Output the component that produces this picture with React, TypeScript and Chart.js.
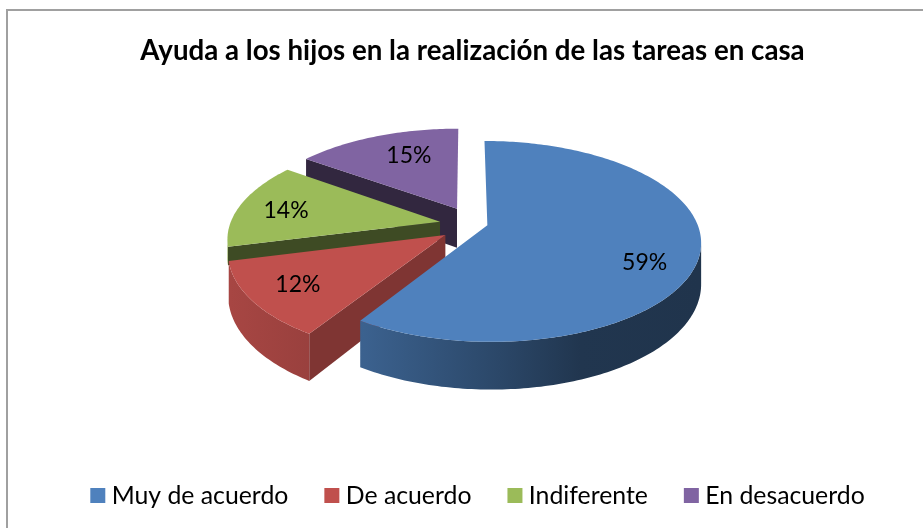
import React, { useEffect, useRef } from "react";
import { Chart, registerables } from "chart.js";

Chart.register(...registerables);

const categories = ["Muy de acuerdo", "De acuerdo", "Indiferente", "En desacuerdo"];
const values = [59, 12, 14, 15];
const colors = ["#4f81bd", "#c0504d", "#9bbb59", "#8064a2"];
const explode = [21, 31, 27, 35];
const explodeTurn = [-0.15, -0.21, 0, 0.19];
const sideShade = [0.6, 0.66, 0.4, 0.39];
const sideDepth = [40, 40, 18, 40];
const labelRadius = [0.785, 0.78, 0.76, 0.68];
const labelTurn = [0.19, 0, -0.04, 0.075];
const wallStops = [[230, 0.87], [365, 0.75], [500, 0.55], [580, 0.42], [700, 0.4]];

const PIE_X = 466.5;
const PIE_Y = 224;
const TILT = 0.464;
const PERSPECTIVE = 0.16;

function rgb(hex: string, s: number) {
  const n = parseInt(hex.slice(1), 16);
  return `rgb(${Math.round(((n >> 16) & 255) * s)},${Math.round(((n >> 8) & 255) * s)},${Math.round((n & 255) * s)})`;
}

const pie3d = {
  id: "pie3d",
  afterLayout(chart: any) {
    chart.legend.left += 8;
    chart.legend.right += 8;
  },
  beforeDatasetsDraw(chart: any) {
    const { ctx } = chart;
    const arcs = chart.getDatasetMeta(0).data;
    const project = (arc: any, i: number, a: number, r: number, down: number) => {
      const R = arc.outerRadius;
      const off = arc.options.offset / R;
      const mid = (arc.startAngle + arc.endAngle) / 2 + explodeTurn[i];
      const u = r * Math.cos(a) + off * Math.cos(mid);
      const v = r * Math.sin(a) + off * Math.sin(mid);
      const w = 1 - PERSPECTIVE * v;
      return [PIE_X + (R * u) / w, PIE_Y + (R * TILT * v) / w + down / w];
    };
    const poly = (pts: number[][], fill: any) => {
      ctx.beginPath();
      pts.forEach((p, n) => (n ? ctx.lineTo(p[0], p[1]) : ctx.moveTo(p[0], p[1])));
      ctx.closePath();
      ctx.fillStyle = fill;
      ctx.fill();
    };
    ctx.save();
    for (let i = arcs.length - 1; i >= 0; i--) {
      const arc = arcs[i];
      const base = colors[i];
      const depth = sideDepth[i];
      const steps = Math.ceil(((arc.endAngle - arc.startAngle) * 180) / Math.PI);
      const at = (k: number) => arc.startAngle + ((arc.endAngle - arc.startAngle) * k) / steps;
      const side = rgb(base, sideShade[i]);
      const sideWall = (a: number) =>
        poly(
          [project(arc, i, a, 0, 0), project(arc, i, a, 1, 0), project(arc, i, a, 1, depth), project(arc, i, a, 0, depth)],
          side
        );
      if (Math.cos(arc.startAngle) < -0.01) sideWall(arc.startAngle);
      if (Math.cos(arc.endAngle) > 0.01) sideWall(arc.endAngle);

      const x0 = wallStops[0][0];
      const span = wallStops[wallStops.length - 1][0] - x0;
      const wall = ctx.createLinearGradient(x0, 0, x0 + span, 0);
      wallStops.forEach(([x, s]) => wall.addColorStop((x - x0) / span, rgb(base, s)));
      const upper: number[][] = [];
      const frontUpper: number[][] = [];
      const frontLower: number[][] = [];
      for (let k = 0; k <= steps; k++) {
        const a = at(k);
        upper.push(project(arc, i, a, 1, 0));
        if (Math.sin(a) > PERSPECTIVE) {
          frontUpper.push(project(arc, i, a, 1, 0));
          frontLower.unshift(project(arc, i, a, 1, depth));
        }
      }
      if (frontUpper.length > 1) poly([...frontUpper, ...frontLower], wall);
      poly([project(arc, i, 0, 0, 0), ...upper], base);
    }
    ctx.fillStyle = "#000";
    ctx.font = "23px Lato";
    ctx.textAlign = "center";
    ctx.textBaseline = "middle";
    arcs.forEach((arc: any, i: number) => {
      const mid = (arc.startAngle + arc.endAngle) / 2 + labelTurn[i];
      const p = project(arc, i, mid, labelRadius[i], 0);
      ctx.fillText(`${values[i]}%`, p[0], p[1]);
    });
    ctx.restore();
    return false;
  },
};

export default function App() {
  const ref = useRef<HTMLCanvasElement>(null);
  useEffect(() => {
    document.body.style.margin = "0";
    const chart = new Chart(ref.current!, {
      type: "pie",
      data: {
        labels: categories,
        datasets: [{ data: values, backgroundColor: colors, offset: explode, borderWidth: 0 }],
      },
      options: {
        responsive: false,
        animation: false,
        radius: 210,
        layout: { padding: { top: 14, bottom: 10, left: 22, right: 0 } },
        plugins: {
          tooltip: { enabled: false },
          title: {
            display: true,
            text: "Ayuda a los hijos en la realización de las tareas en casa",
            color: "#000",
            font: { family: "Lato", size: 27.7, weight: "bold" },
            padding: { top: 20, bottom: 10 },
          },
          legend: {
            position: "bottom",
            labels: {
              color: "#000",
              usePointStyle: true,
              pointStyle: "rect",
              boxWidth: 3,
              boxHeight: 15,
              padding: 42,
              font: { family: "Lato", size: 24.8 },
            },
          },
        },
      },
      plugins: [pie3d],
    } as any);
    return () => chart.destroy();
  }, []);
  return (
    <div style={{ position: "relative", width: 923, height: 528, overflow: "hidden" }}>
      <canvas ref={ref} width={923} height={528} style={{ display: "block" }} />
      <div style={{ position: "absolute", left: 6, top: 9, width: 930, height: 530, border: "2px solid #a0a0a0", boxSizing: "border-box" }} />
    </div>
  );
}
